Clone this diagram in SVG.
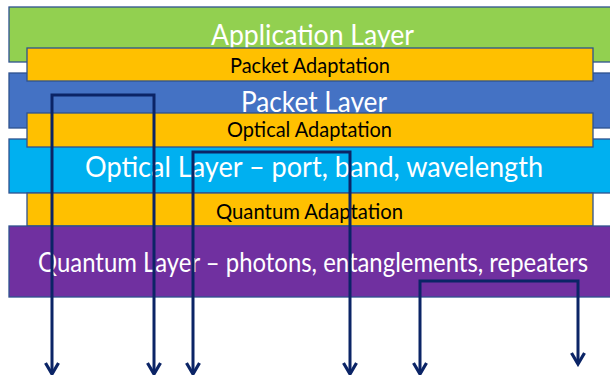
<svg xmlns="http://www.w3.org/2000/svg" width="610" height="375" viewBox="0 0 610 375">
<style>
.lay{stroke:#2F528F;stroke-width:1.3}
.ad{fill:#FFC000;stroke:#2F528F;stroke-width:1.3}
.wt{fill:#FFFFFF;font-family:Lato,"Open Sans",sans-serif;text-anchor:start}
.bt{fill:#000000;font-family:Lato,"Open Sans",sans-serif;font-size:21px}
.con{fill:none;stroke:#0B2466;stroke-width:3;marker-start:url(#ah);marker-end:url(#ah)}
</style>
<defs>
<marker id="ah" markerUnits="userSpaceOnUse" markerWidth="16" markerHeight="16" viewBox="0 0 16 16" refX="13" refY="8" orient="auto-start-reverse">
<path d="M2,1.5 L13,8 L2,14.5" fill="none" stroke="#0B2466" stroke-width="3.2"/>
</marker>
</defs>
<rect width="610" height="375" fill="#FFFFFF"/>
<g id="application-layer">
<rect class="lay" x="9" y="7" width="610" height="55" fill="#92D050"/>
<text class="wt" x="211" y="45" font-size="29" textLength="203" lengthAdjust="spacingAndGlyphs">Application Layer</text>
</g>
<g id="packet-layer">
<rect class="lay" x="9" y="73" width="610" height="55" fill="#4472C4"/>
<text class="wt" x="241" y="112" font-size="29" textLength="146" lengthAdjust="spacingAndGlyphs">Packet Layer</text>
</g>
<g id="packet-adaptation">
<rect class="ad" x="27" y="48" width="566" height="33"/>
<text class="bt" x="230" y="73" textLength="160" lengthAdjust="spacingAndGlyphs">Packet Adaptation</text>
</g>
<g id="optical-layer">
<rect class="lay" x="9" y="139" width="610" height="54" fill="#00B0F0"/>
<text class="wt" x="85" y="177" font-size="29" textLength="458" lengthAdjust="spacingAndGlyphs">Optical Layer – port, band, wavelength</text>
</g>
<g id="optical-adaptation">
<rect class="ad" x="27" y="113" width="566" height="34"/>
<text class="bt" x="227" y="137" textLength="165" lengthAdjust="spacingAndGlyphs">Optical Adaptation</text>
</g>
<g id="quantum-adaptation">
<rect class="ad" x="27" y="193" width="566" height="33"/>
<text class="bt" x="216" y="219" textLength="187" lengthAdjust="spacingAndGlyphs">Quantum Adaptation</text>
</g>
<g id="quantum-layer">
<rect class="lay" x="9" y="226" width="610" height="71" fill="#7030A0"/>
<text class="wt" x="38" y="272" font-size="27" textLength="550" lengthAdjust="spacingAndGlyphs">Quantum Layer – photons, entanglements, repeaters</text>
</g>
<g id="connectors">
<path class="con" d="M52,374 V95 H154 V374"/>
<path class="con" d="M193,374 V152 H350 V374"/>
<path class="con" d="M420,374 V281 H578 V364"/>
</g>
</svg>
